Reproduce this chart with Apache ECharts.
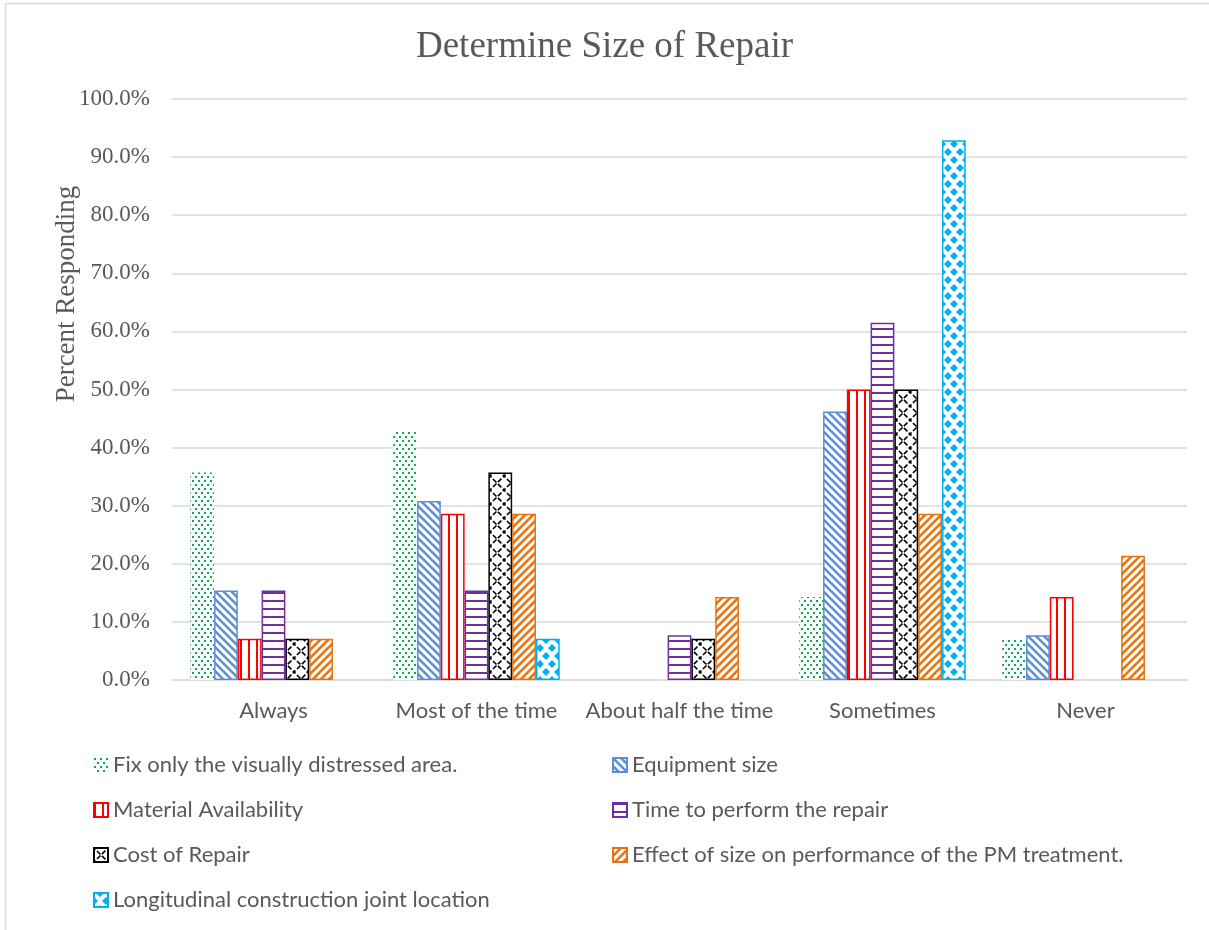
<!DOCTYPE html>
<html>
<head>
<meta charset="utf-8">
<script src="https://cdn.jsdelivr.net/npm/echarts@6/dist/echarts.min.js"></script>
<style>
  html, body { margin: 0; padding: 0; background: #fff; }
  #chart { width: 1209px; height: 930px; }
</style>
</head>
<body>
<div id="chart"></div>
<script>
// ============ 数据 ============
const categories = ['Always', 'Most of the time', 'About half the time', 'Sometimes', 'Never']
const seriesNames = [
  'Fix only the visually distressed area.',
  'Equipment size',
  'Material Availability',
  'Time to perform the repair',
  'Cost of Repair',
  'Effect of size on performance of the PM treatment.',
  'Longitudinal construction joint location'
]
const fixOnly = [35.7, 42.9, 0, 14.3, 7.1]
const equipmentSize = [15.4, 30.8, 0, 46.2, 7.7]
const materialAvail = [7.1, 28.6, 0, 50.0, 14.3]
const timeToPerform = [15.4, 15.4, 7.7, 61.5, 0]
const costOfRepair = [7.1, 35.7, 7.1, 50.0, 0]
const effectOfSize = [7.1, 28.6, 14.3, 28.6, 21.4]
const longJoint = [0, 7.1, 0, 92.9, 0]
const yTicks = { min: 0, max: 100, interval: 10 }

const TEXT = '#595959'
const GRID_LINE = '#d9d9d9'
const SERIF = 'Liberation Serif'
const SANS = 'Lato'

// ============ 填充图案 ============
function makePattern(w, h, draw) {
  const c = document.createElement('canvas')
  c.width = w
  c.height = h
  const ctx = c.getContext('2d')
  ctx.fillStyle = '#fff'
  ctx.fillRect(0, 0, w, h)
  draw(ctx)
  return { image: c, repeat: 'repeat' }
}

const patterns = [
  // 绿色点
  makePattern(6, 8, ctx => {
    ctx.fillStyle = '#00b050'
    ctx.fillRect(0, 0, 2, 2)
    ctx.fillRect(3, 4, 2, 2)
  }),
  // 蓝色下斜线
  makePattern(8, 8, ctx => {
    ctx.strokeStyle = '#5b8fd6'
    ctx.lineWidth = 2.6
    for (const k of [-8, 0, 8]) {
      ctx.beginPath(); ctx.moveTo(-2, -2 + k); ctx.lineTo(10, 10 + k); ctx.stroke()
    }
  }),
  // 红色竖线
  makePattern(8, 4, ctx => {
    ctx.fillStyle = '#ff0000'
    ctx.fillRect(0, 0, 2, 4)
  }),
  // 紫色横线
  makePattern(4, 8, ctx => {
    ctx.fillStyle = '#7030a0'
    ctx.fillRect(0, 0, 4, 2)
  }),
  // 黑色虚线交叉
  makePattern(14, 14, ctx => {
    ctx.strokeStyle = '#000'
    ctx.lineWidth = 1.6
    ctx.setLineDash([5, 2])
    for (const k of [-14, 0, 14]) {
      ctx.beginPath(); ctx.moveTo(-2, 16 + k); ctx.lineTo(16, -2 + k); ctx.stroke()
      ctx.beginPath(); ctx.moveTo(-2, -2 + k); ctx.lineTo(16, 16 + k); ctx.stroke()
    }
  }),
  // 橙色上斜线
  makePattern(8, 8, ctx => {
    ctx.strokeStyle = '#e8720f'
    ctx.lineWidth = 2.6
    for (const k of [-8, 0, 8]) {
      ctx.beginPath(); ctx.moveTo(-2, 10 + k); ctx.lineTo(10, -2 + k); ctx.stroke()
    }
  }),
  // 青色菱形
  makePattern(12, 16, ctx => {
    ctx.fillStyle = '#00b0f0'
    const diamond = (x, y) => {
      ctx.beginPath()
      ctx.moveTo(x, y - 4); ctx.lineTo(x + 4, y); ctx.lineTo(x, y + 4); ctx.lineTo(x - 4, y)
      ctx.closePath(); ctx.fill()
    }
    diamond(6, 0); diamond(6, 16); diamond(0, 8); diamond(12, 8)
  })
]
const borderColors = ['#00b050', '#5b8fd6', '#ff0000', '#7030a0', '#000000', '#e8720f', '#00b0f0']
const borderWidths = [0, 1.5, 1.5, 1.5, 1.5, 1.5, 1.5]
const allData = [fixOnly, equipmentSize, materialAvail, timeToPerform, costOfRepair, effectOfSize, longJoint]

const series = seriesNames.map((name, i) => ({
  name,
  type: 'bar',
  barGap: '0%',
  barCategoryGap: '18%',
  itemStyle: {
    color: patterns[i],
    borderColor: borderColors[i],
    borderWidth: borderWidths[i]
  },
  data: allData[i].map(v => (v === 0 ? { value: 0, itemStyle: { borderWidth: 0 } } : v))
}))

const legendCommon = {
  orient: 'vertical',
  icon: 'rect',
  itemWidth: 14,
  itemHeight: 14,
  itemGap: 23,
  textStyle: { color: TEXT, fontFamily: SANS, fontSize: 22, lineHeight: 20 }
}

const chart = echarts.init(document.getElementById('chart'), null, { renderer: 'canvas' })
chart.setOption({
  animation: false,
  backgroundColor: '#fff',
  title: {
    text: 'Determine Size of Repair',
    left: 'center',
    top: 24,
    textStyle: { color: TEXT, fontFamily: SERIF, fontSize: 37, fontWeight: 'normal' }
  },
  graphic: [
    {
      type: 'rect',
      shape: { x: 5.5, y: 3.5, width: 1230, height: 950 },
      style: { fill: 'none', stroke: GRID_LINE, lineWidth: 1.5 },
      silent: true
    },
    {
      type: 'text',
      x: 67,
      y: 294,
      rotation: Math.PI / 2,
      style: {
        text: 'Percent Responding',
        fill: TEXT,
        font: '27px "Liberation Serif"',
        textAlign: 'center',
        textVerticalAlign: 'middle'
      }
    }
  ],
  legend: [
    Object.assign({}, legendCommon, {
      left: 88, top: 749,
      data: [seriesNames[0], seriesNames[2], seriesNames[4], seriesNames[6]]
    }),
    Object.assign({}, legendCommon, {
      left: 607, top: 749,
      data: [seriesNames[1], seriesNames[3], seriesNames[5]]
    })
  ],
  grid: { left: 172, right: 22, top: 99, bottom: 250, containLabel: false },
  xAxis: {
    type: 'category',
    data: categories,
    axisLine: { lineStyle: { color: GRID_LINE, width: 1.5 } },
    axisTick: { show: false },
    axisLabel: { color: TEXT, fontFamily: SANS, fontSize: 22, margin: 20, interval: 0 }
  },
  yAxis: {
    type: 'value',
    min: yTicks.min,
    max: yTicks.max,
    interval: yTicks.interval,
    axisLine: { show: false },
    axisTick: { show: false },
    splitLine: { lineStyle: { color: GRID_LINE, width: 1.5 } },
    axisLabel: {
      color: TEXT,
      fontFamily: SERIF,
      fontSize: 23,
      margin: 22,
      formatter: v => v.toFixed(1) + '%'
    }
  },
  series
})
</script>
</body>
</html>
